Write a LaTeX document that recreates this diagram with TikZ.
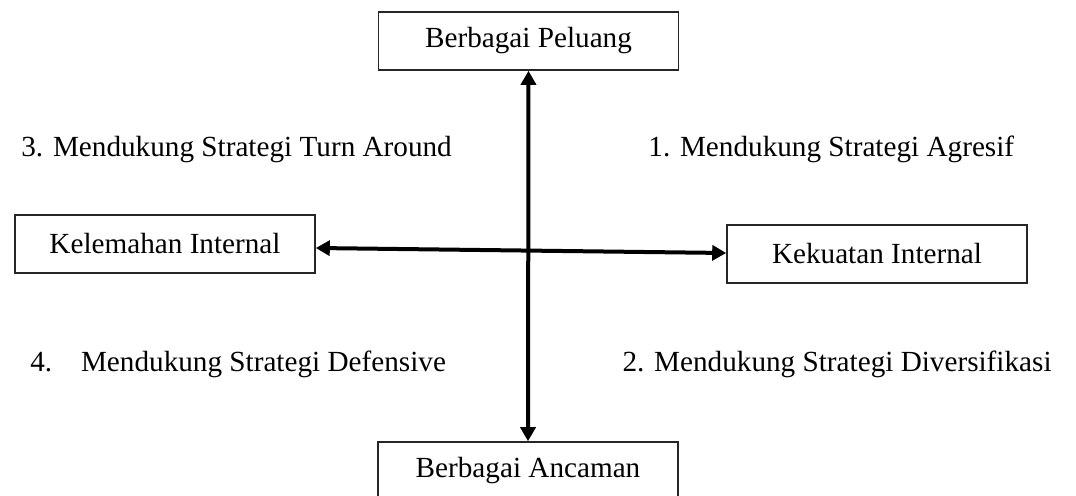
\documentclass[tikz,border=0pt]{standalone}
\usepackage{fontspec}
\setmainfont{Liberation Serif}
\usetikzlibrary{arrows.meta}
\begin{document}
\begin{tikzpicture}[x=0.5pt,y=-0.5pt,
  box/.style={draw=black!85,line width=0.8pt,minimum width=150pt,minimum height=29pt,inner sep=0pt,font=\fontsize{14.6pt}{17pt}\selectfont},
  lbl/.style={inner sep=0pt,font=\fontsize{14.6pt}{17pt}\selectfont},
  axis/.style={line width=2pt,{Triangle[length=7pt,width=7.5pt]}-{Triangle[length=7pt,width=7.5pt]}}]
\useasboundingbox (0,0) rectangle (1076,496);
\node[box] (opp) at (528.5,41) {Berbagai Peluang};
\node[box] (thr) at (528,471) {Berbagai Ancaman};
\node[box] (weak) at (165,244) {Kelemahan Internal};
\node[box] (str) at (877,254) {Kekuatan Internal};
\draw[axis] (opp.south) -- (thr.north);
\draw[axis] ([yshift=-2pt]weak.east) -- ([yshift=0.5pt]str.west);
\node[lbl,anchor=base west] (q3) at (21,157) {3. Mendukung Strategi Turn Around};
\node[lbl,anchor=base west] (q1) at (648,157) {1. Mendukung Strategi Agresif};
\node[lbl,anchor=base west] (q4) at (30,372) {4.\hspace{9.5pt} Mendukung Strategi Defensive};
\node[lbl,anchor=base east] (q2) at (1052,372) {2. Mendukung Strategi Diversifikasi};
\end{tikzpicture}
\end{document}
